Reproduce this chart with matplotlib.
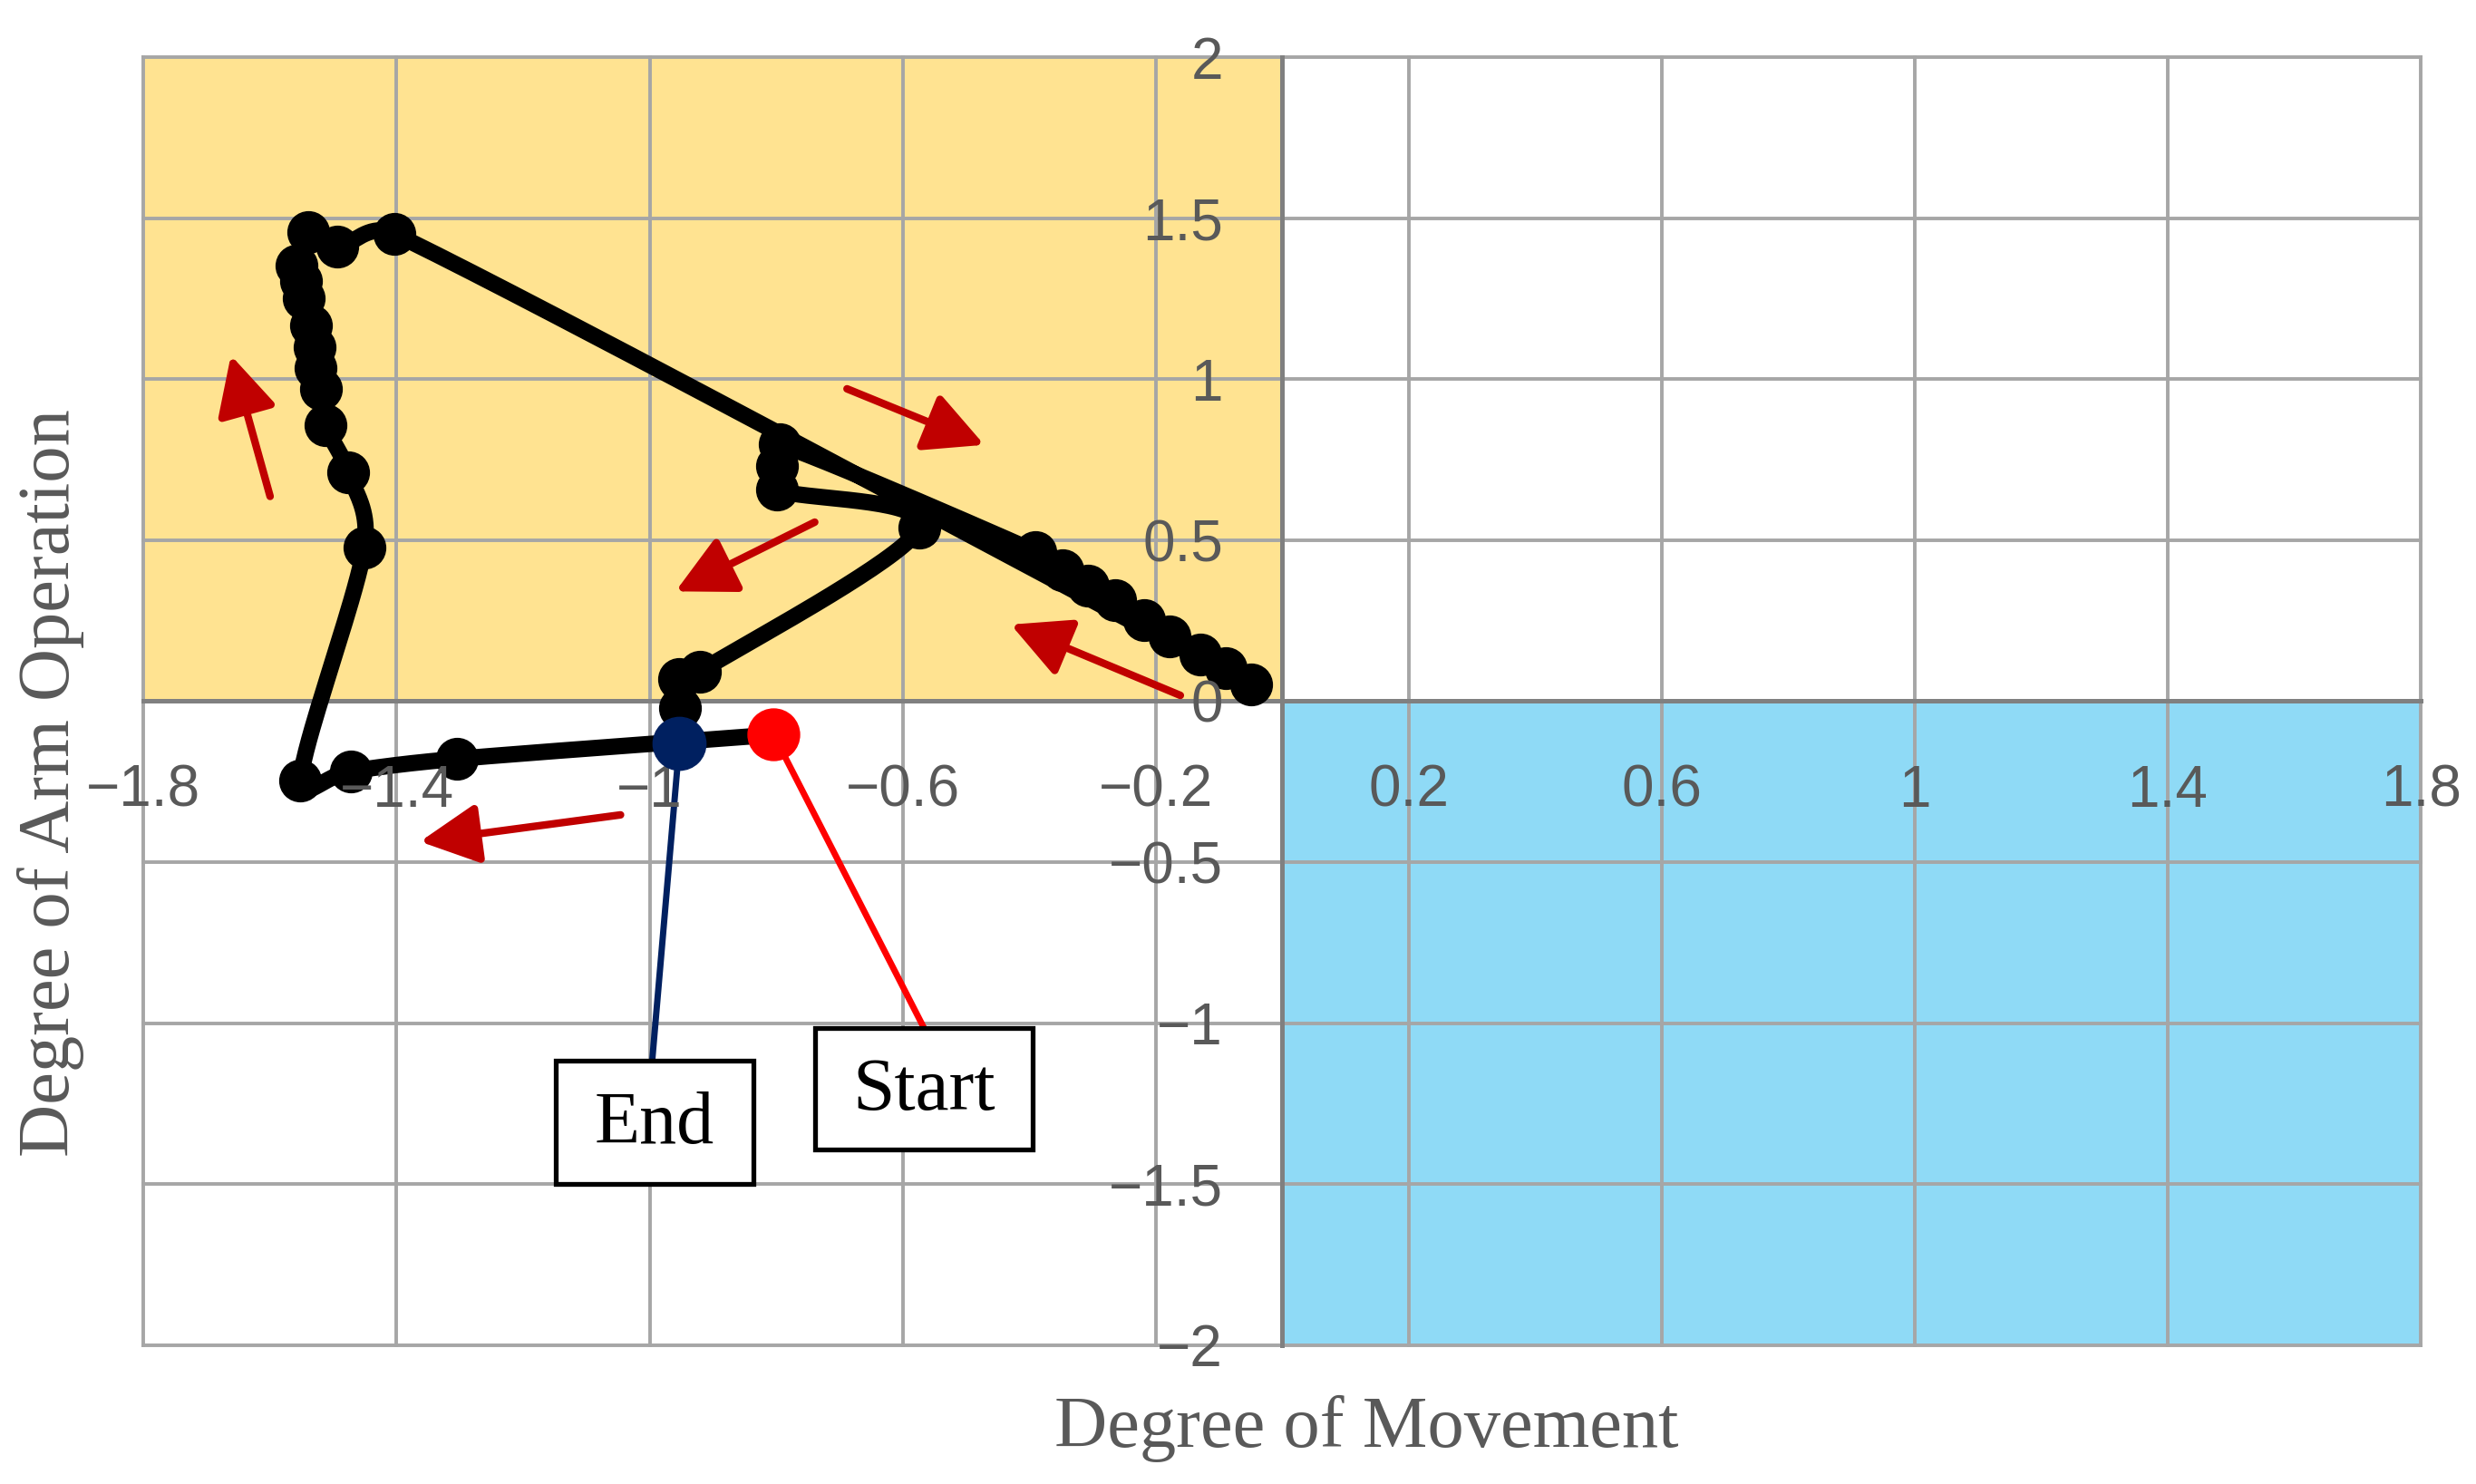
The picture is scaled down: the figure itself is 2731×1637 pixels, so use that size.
import numpy as np
import matplotlib.pyplot as plt
from matplotlib.patches import Rectangle

# ---- data ----
# trajectory (Degree of Movement, Degree of Arm Operation), first = Start, last = End
movement = [-0.804, -1.305, -1.472, -1.552, -1.451, -1.477, -1.513, -1.520, -1.528, -1.530,
            -1.535, -1.547, -1.551, -1.559, -1.539, -1.494, -1.403, -0.049, -0.089, -0.130,
            -0.178, -0.218, -0.264, -0.307, -0.347, -0.390, -0.794, -0.799, -0.798, -0.574,
            -0.921, -0.954, -0.952, -0.953]
arm_operation = [-0.104, -0.179, -0.217, -0.246, 0.478, 0.712, 0.857, 0.969, 1.035, 1.100,
                 1.166, 1.250, 1.305, 1.353, 1.456, 1.411, 1.451, 0.051, 0.102, 0.144,
                 0.201, 0.252, 0.313, 0.360, 0.407, 0.464, 0.797, 0.731, 0.656, 0.538,
                 0.092, 0.069, -0.020, -0.132]

x_ticks = [-1.8, -1.4, -1.0, -0.6, -0.2, 0.2, 0.6, 1.0, 1.4, 1.8]
x_labels = ['\u22121.8', '\u22121.4', '\u22121', '\u22120.6', '\u22120.2', '0.2', '0.6', '1', '1.4', '1.8']
y_ticks = [-2, -1.5, -1, -0.5, 0, 0.5, 1, 1.5, 2]
y_labels = ['\u22122', '\u22121.5', '\u22121', '\u22120.5', '0', '0.5', '1', '1.5', '2']

# direction arrows: (tail x, tail y, head x, head y)
arrows = [(-1.600, 0.636, -1.662, 1.074),
          (-0.688, 0.970, -0.471, 0.796),
          (-0.739, 0.556, -0.959, 0.341),
          (-0.161, 0.018, -0.429, 0.238),
          (-1.046, -0.353, -1.363, -0.436)]

GRID = '#A6A6A6'
AXIS = '#808080'
TXT = '#595959'
SERIF = 'Liberation Serif'
SANS = 'Liberation Sans'


def smooth(ax, xs, ys, n=40):
    '''Excel-style smoothed line, worked out in pixel space.
    Handle along (P2 - P0), length min(|P2-P0|/6, |P2-P1|/2).'''
    p = ax.transData.transform(np.column_stack([xs, ys]))
    pad = np.vstack([p[0], p, p[-1]])
    t = np.linspace(0, 1, n)[1:, None]
    out = [p[:1]]
    for i in range(1, len(pad) - 2):
        p0, p1, p2, p3 = pad[i - 1], pad[i], pad[i + 1], pad[i + 2]
        seg = np.hypot(*(p2 - p1))
        d1, d2 = p2 - p0, p3 - p1
        n1, n2 = max(np.hypot(*d1), 1e-9), max(np.hypot(*d2), 1e-9)
        c1 = p1 + d1 / n1 * min(n1 / 6, seg / 2)
        c2 = p2 - d2 / n2 * min(n2 / 6, seg / 2)
        out.append((1 - t) ** 3 * p1 + 3 * (1 - t) ** 2 * t * c1 + 3 * (1 - t) * t ** 2 * c2 + t ** 3 * p2)
    return ax.transData.inverted().transform(np.vstack(out))


fig = plt.figure(figsize=(27.31, 16.37), dpi=100)
ax = fig.add_axes([0.058, 0.0935, 0.9197, 0.868])
ax.set_xlim(-1.8, 1.8)
ax.set_ylim(-2, 2)

# quadrant shading
ax.add_patch(Rectangle((-1.8, 0), 1.8, 2, facecolor='#FFE391', edgecolor='none', zorder=0.1))
ax.add_patch(Rectangle((0, -2), 1.8, 2, facecolor='#8FDAF6', edgecolor='none', zorder=0.1))

# grid lines (drawn by hand so tick labels can sit above the trace)
for xv in x_ticks:
    ax.axvline(xv, color=GRID, lw=2.8, zorder=0.5, clip_on=False)
for yv in y_ticks:
    ax.axhline(yv, color=GRID, lw=2.8, zorder=0.5, clip_on=False)

# axes crossing at zero
for side in ['top', 'right']:
    ax.spines[side].set_visible(False)
ax.spines['left'].set_position('zero')
ax.spines['bottom'].set_position('zero')
for side in ['left', 'bottom']:
    ax.spines[side].set_color(AXIS)
    ax.spines[side].set_linewidth(3.6)
    ax.spines[side].set_zorder(1)

ax.set_xticks(x_ticks, x_labels)
ax.set_yticks(y_ticks, y_labels)
ax.tick_params(axis='x', length=0, pad=50, labelsize=46, labelcolor=TXT)
ax.tick_params(axis='y', length=0, pad=47, labelsize=46, labelcolor=TXT)
for lab in ax.get_xticklabels() + ax.get_yticklabels():
    lab.set_fontfamily(SANS)
ax.xaxis.set_zorder(4.5)
ax.yaxis.set_zorder(4.5)

# leader lines to the Start / End boxes
ax.plot([movement[-1], -0.996], [arm_operation[-1], -1.117], color='#002060', lw=5, zorder=2.8)
ax.plot([movement[0], -0.566], [arm_operation[0], -1.016], color='#FF0000', lw=5, zorder=2.8)

# trajectory
curve = smooth(ax, movement, arm_operation)
ax.plot(curve[:, 0], curve[:, 1], color='black', lw=13, solid_capstyle='round',
        solid_joinstyle='round', zorder=3)
ax.plot(movement[1:-1], arm_operation[1:-1], 'o', color='black', ms=33, zorder=4)
ax.plot(movement[0], arm_operation[0], 'o', color='#FF0000', ms=41, zorder=6)
ax.plot(movement[-1], arm_operation[-1], 'o', color='#002060', ms=42, zorder=6)

# red direction arrows
for x0, y0, x1, y1 in arrows:
    ax.annotate('', xy=(x1, y1), xytext=(x0, y0),
                arrowprops=dict(arrowstyle='-|>,head_length=0.55,head_width=0.28', mutation_scale=72,
                                lw=6, color='#C00000', shrinkA=0, shrinkB=0), zorder=5)

# Start / End boxes
ax.add_patch(Rectangle((-1.148, -1.500), 0.312, 0.383, facecolor='white', edgecolor='black', lw=3.8, zorder=6))
ax.text(-0.992, -1.318, 'End', fontsize=59, family=SERIF, ha='center', va='center', zorder=7)
ax.add_patch(Rectangle((-0.738, -1.393), 0.344, 0.377, facecolor='white', edgecolor='black', lw=3.8, zorder=6))
ax.text(-0.566, -1.212, 'Start', fontsize=60, family=SERIF, ha='center', va='center', zorder=7)

# axis titles
fig.text(1507 / 2731, 1 - 1576 / 1637, 'Degree of Movement', fontsize=58, family=SERIF,
         color=TXT, ha='center', va='center')
fig.text(56 / 2731, 1 - 864 / 1637, 'Degree of Arm Operation', fontsize=58, family=SERIF,
         color=TXT, ha='center', va='center', rotation=90)

fig.savefig('out.png', dpi=100)
